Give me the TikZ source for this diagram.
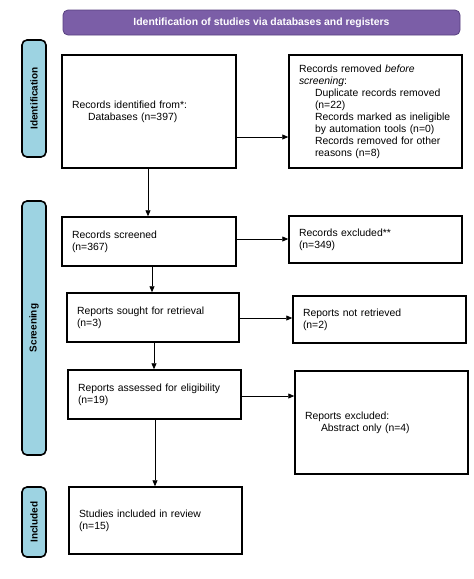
\documentclass[tikz,border=0pt]{standalone}
\usepackage{fontspec}
\setmainfont{Liberation Sans}
\usetikzlibrary{arrows.meta}
\definecolor{hdrfill}{RGB}{123,94,167}
\definecolor{hdrline}{RGB}{88,64,128}
\definecolor{barfill}{RGB}{157,211,226}
\tikzset{
  flowbox/.style={draw, line width=1.5pt, inner xsep=10pt, inner ysep=0pt, align=left,
    font=\fontsize{10.4}{12}\selectfont},
  sidebar/.style={draw, line width=1.6pt, fill=barfill, rounded corners=5pt, inner sep=0pt,
    rotate=90, minimum height=24pt, font=\bfseries\fontsize{10}{12}\selectfont},
  header/.style={draw=hdrline, line width=0.8pt, fill=hdrfill, rounded corners=5pt, inner sep=0pt,
    text=white, font=\bfseries\fontsize{10.4}{12}\selectfont},
  link/.style={line width=0.8pt, -{Triangle[length=6pt,width=5pt]}},
}
\newcommand{\ind}{\hspace*{16pt}}
\begin{document}
\begin{tikzpicture}[x=1pt,y=-1pt]
\fill[white] (0,0) rectangle (474,579);
\useasboundingbox (0,0) rectangle (474,579);

\node[header, minimum width=397pt, minimum height=25pt] (hdr) at (261.5,22.5)
  {Identification of studies via databases and registers};

\node[sidebar, minimum width=117pt] (s1) at (34,98.5) {Identification};
\node[sidebar, minimum width=254pt] (s2) at (34,328) {Screening};
\node[sidebar, minimum width=70pt] (s3) at (34,522) {Included};

\node[flowbox, minimum width=174pt, minimum height=113pt, text width=154pt] (b1) at (149,111.5)
  {Records identified from*:\\ \ind Databases (n=397)};
\node[flowbox, minimum width=173pt, minimum height=113pt, text width=153pt] (b2) at (375.5,111.5)
  {Records removed \textit{before}\\ \textit{screening}:\\
   \ind Duplicate records removed\\ \ind (n=22)\\
   \ind Records marked as ineligible\\ \ind by automation tools (n=0)\\
   \ind Records removed for other\\ \ind reasons (n=8)};
\node[flowbox, minimum width=174pt, minimum height=49pt, text width=154pt] (b3) at (149,241.5)
  {Records screened\\ (n=367)};
\node[flowbox, minimum width=173pt, minimum height=47pt, text width=153pt] (b4) at (375.5,239.5)
  {Records excluded**\\ (n=349)};
\node[flowbox, minimum width=172pt, minimum height=49pt, text width=152pt] (b5) at (153,317.5)
  {Reports sought for retrieval\\ (n=3)};
\node[flowbox, minimum width=173pt, minimum height=47pt, text width=153pt] (b6) at (379.5,319.5)
  {Reports not retrieved\\ (n=2)};
\node[flowbox, minimum width=173pt, minimum height=49pt, text width=153pt] (b7) at (154.5,394.5)
  {Reports assessed for eligibility\\ (n=19)};
\node[flowbox, minimum width=173pt, minimum height=103pt, text width=153pt] (b8) at (381.5,422.5)
  {Reports excluded:\\ \ind Abstract only (n=4)};
\node[flowbox, minimum width=173pt, minimum height=67pt, text width=153pt] (b9) at (155.5,520.5)
  {Studies included in review\\ (n=15)};

\draw[link] (b1.east |- 0,137) -- (b2.west |- 0,137);
\draw[link] (b3.east |- 0,239) -- (b4.west |- 0,239);
\draw[link] (b5.east |- 0,318) -- (b6.west |- 0,318);
\draw[link] (b7.east |- 0,396) -- (b8.west |- 0,396);
\draw[link] (b1.south -| 148,0) -- (b3.north -| 148,0);
\draw[link] (b3.south -| 152,0) -- (b5.north -| 152,0);
\draw[link] (b5.south -| 154,0) -- (b7.north -| 154,0);
\draw[link] (b7.south -| 155,0) -- (b9.north -| 155,0);
\end{tikzpicture}
\end{document}
